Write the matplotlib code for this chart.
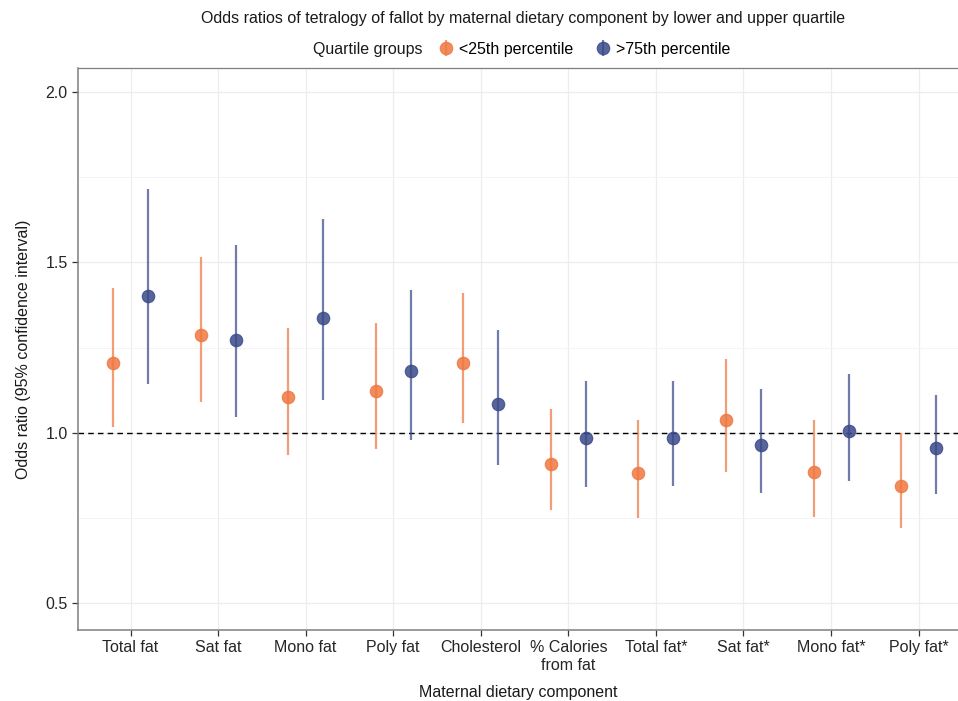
import matplotlib
matplotlib.use("Agg")
import matplotlib.pyplot as plt
import numpy as np

plt.rcParams['font.family'] = ['Liberation Sans', 'DejaVu Sans']

categories = ["Total fat", "Sat fat", "Mono fat", "Poly fat", "Cholesterol",
              "% Calories\nfrom fat", "Total fat*", "Sat fat*", "Mono fat*", "Poly fat*"]

# <25th percentile
low_or = [1.205, 1.287, 1.106, 1.123, 1.205, 0.909, 0.883, 1.038, 0.886, 0.845]
low_lo = [1.018, 1.091, 0.936, 0.953, 1.030, 0.774, 0.750, 0.886, 0.754, 0.721]
low_hi = [1.425, 1.516, 1.308, 1.323, 1.410, 1.070, 1.038, 1.217, 1.038, 1.000]

# >75th percentile
high_or = [1.400, 1.273, 1.337, 1.182, 1.085, 0.985, 0.985, 0.965, 1.006, 0.956]
high_lo = [1.144, 1.047, 1.097, 0.979, 0.906, 0.842, 0.845, 0.824, 0.859, 0.821]
high_hi = [1.716, 1.551, 1.628, 1.419, 1.302, 1.152, 1.152, 1.129, 1.173, 1.111]

orange = "#EE7840"
blue = "#3A4A8A"

fig = plt.figure(figsize=(9.58, 7.01), dpi=100)
ax = fig.add_axes([0.0814, 0.1013, 0.9186, 0.8017])

x = np.arange(len(categories))
groups = [("<25th percentile", low_or, low_lo, low_hi, orange, -0.2),
          (">75th percentile", high_or, high_lo, high_hi, blue, 0.2)]
for label, est, lo, hi, col, off in groups:
    est = np.array(est)
    err = [est - np.array(lo), np.array(hi) - est]
    cont = ax.errorbar(x + off, est, yerr=err, fmt='o', color=col, ecolor=col,
                       elinewidth=1.6, capsize=0, markersize=9, alpha=0.85,
                       markeredgewidth=0.8, label=label, zorder=3)
    for bar in cont.lines[2]:
        bar.set_alpha(0.72)

ax.axhline(1.0, color="black", linestyle=(0, (4, 3)), linewidth=1, zorder=2)

ax.set_xlim(-0.6, 9.45)
ax.set_ylim(0.422, 2.07)
ax.set_xticks(x)
ax.set_xticklabels(categories)
ax.set_yticks([0.5, 1.0, 1.5, 2.0])
ax.set_yticks([0.75, 1.25, 1.75], minor=True)
ax.grid(True, which='major', color="#EDEDED", linewidth=0.9, zorder=0)
ax.grid(True, which='minor', axis='y', color="#F4F4F4", linewidth=0.7, zorder=0)
ax.set_axisbelow(True)

for s in ["left", "bottom", "top"]:
    ax.spines[s].set_color("#7F7F7F")
    ax.spines[s].set_linewidth(1.1)
ax.spines["top"].set_linewidth(0.9)
ax.spines["right"].set_visible(False)
ax.tick_params(axis='both', colors="#333333", labelsize=11.5, length=4, width=0.9,
               labelcolor="#262626")
ax.tick_params(axis='both', which='minor', length=0)

ax.set_xlabel("Maternal dietary component", fontsize=11.5, color="#1a1a1a", labelpad=9)
ax.set_ylabel("Odds ratio (95% confidence interval)", fontsize=11.5, color="#1a1a1a", labelpad=10)

fig.text(0.546, 0.974, "Odds ratios of tetralogy of fallot by maternal dietary component by lower and upper quartile",
         ha='center', va='center', fontsize=11.5, color="#1a1a1a")
fig.text(0.327, 0.930, "Quartile groups", ha='left', va='center', fontsize=11.5, color="#1a1a1a")
handles, labels = ax.get_legend_handles_labels()
fig.legend(handles, labels, loc='center left', bbox_to_anchor=(0.459, 0.930), ncol=2,
           frameon=False, fontsize=11.5, handlelength=0.8, handletextpad=0.4,
           columnspacing=1.5, borderaxespad=0, borderpad=0)

fig.savefig("out.png", dpi=100)
